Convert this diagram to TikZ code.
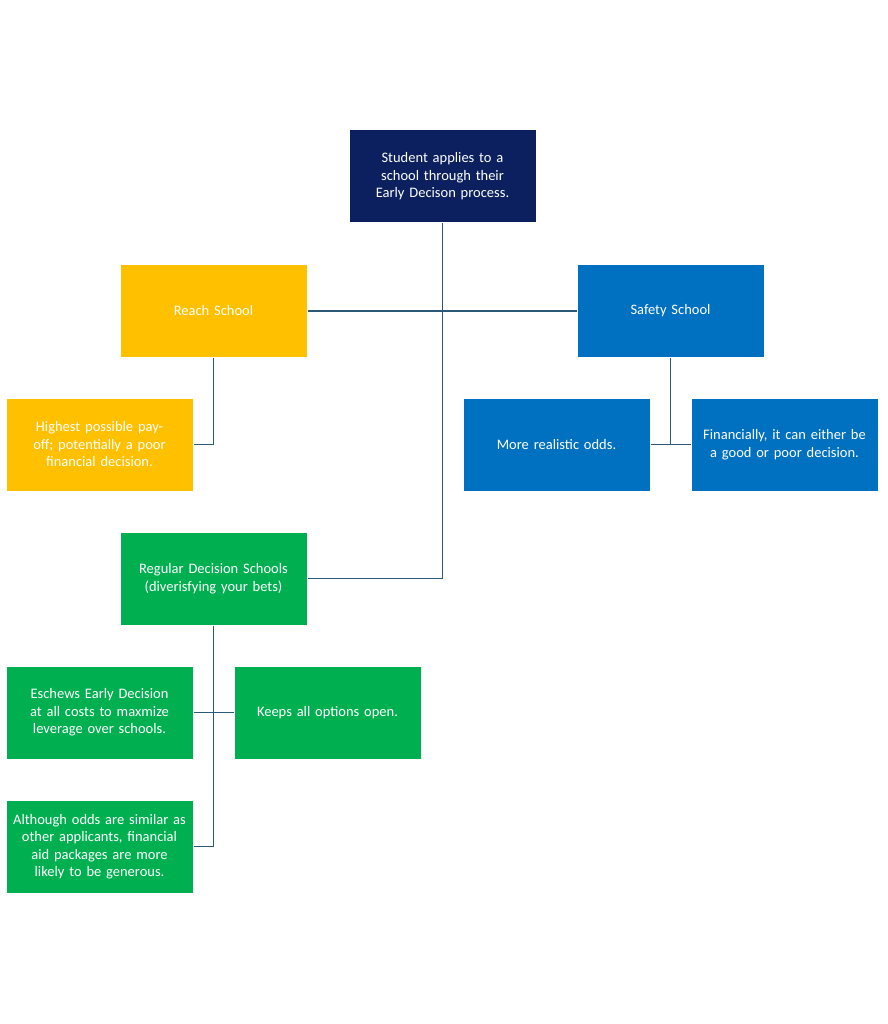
\documentclass[tikz,border=0pt]{standalone}
\usepackage{fontspec}
\setmainfont{Carlito}
\definecolor{navy}{HTML}{0C2060}
\definecolor{gold}{HTML}{FFC000}
\definecolor{azure}{HTML}{0070C0}
\definecolor{leaf}{HTML}{00B050}
\definecolor{wire}{HTML}{2A5A78}
\tikzset{
  box/.style={draw=white, line width=1pt, minimum width=187pt, minimum height=93pt,
    text width=180pt, align=center, text=white, inner sep=2pt,
    font=\fontsize{14.5}{17.5}\selectfont},
  link/.style={draw=wire, line width=1.6pt}
}
\begin{document}
\begin{tikzpicture}[x=1pt,y=-1pt]
    \useasboundingbox (0,0) rectangle (887,1024);
    \node[box,fill=navy] (top) at (442.5,176.5) {Student applies to a school through their Early Decison process.};
    \node[box,fill=gold] (reach) at (213.5,311) {Reach School};
    \node[box,fill=azure] (safe) at (670.5,311) {Safety School};
    \node[box,fill=gold] (high) at (99.5,444.5) {Highest possible payoff; potentially a poor financial decision.};
    \node[box,fill=azure] (real) at (556.5,444.5) {More realistic odds.};
    \node[box,fill=azure] (fin) at (784.5,444.5) {Financially, it can either be a good or poor decision.};
    \node[box,fill=leaf] (reg) at (213.5,578.5) {Regular Decision Schools (diverisfying your bets)};
    \node[box,fill=leaf] (esc) at (99.5,712.5) {Eschews Early Decision at all costs to maxmize leverage over schools.};
    \node[box,fill=leaf] (keep) at (327.5,712.5) {Keeps all options open.};
    \node[box,fill=leaf] (alt) at (99.5,846.5) {Although odds are similar as other applicants, financial aid packages are more likely to be generous.};
    % connectors
    \draw[link] (top.south) |- (reg.east);
    \draw[link] (reach.east) -- (safe.west);
    \draw[link] (reach.south) |- (high.east);
    \draw[link] (safe.south) -- (safe.south |- real.east);
    \draw[link] (real.east) -- (fin.west);
    \draw[link] (reg.south) |- (alt.east);
    \draw[link] (esc.east) -- (keep.west);
\end{tikzpicture}
\end{document}
